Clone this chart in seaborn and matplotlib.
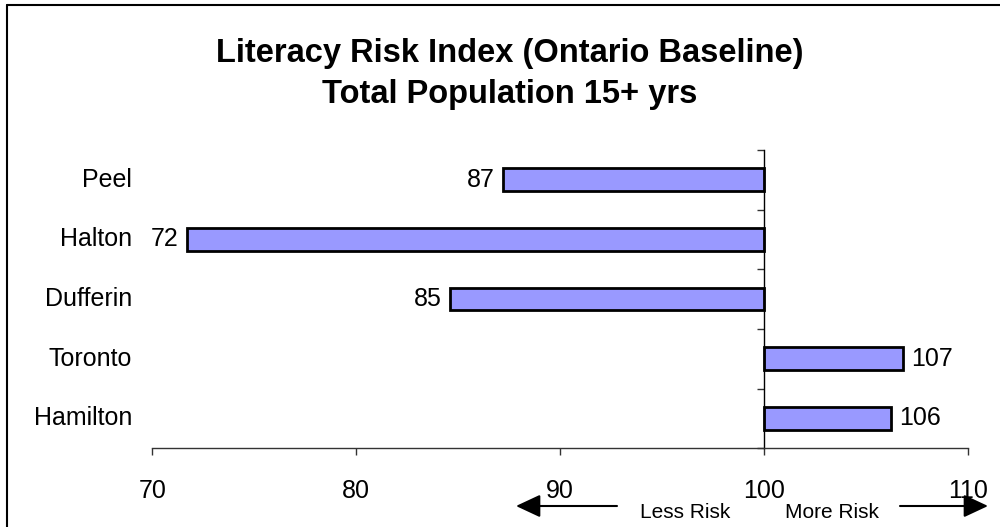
import numpy as np
import pandas as pd
import matplotlib
matplotlib.use("Agg")
import matplotlib.pyplot as plt
import matplotlib.transforms as mtransforms
from matplotlib.lines import Line2D
from matplotlib.patches import FancyArrowPatch
from matplotlib.ticker import FuncFormatter, FixedLocator
import seaborn as sns

# Data (index, Ontario = 100)
regions = ["Peel", "Halton", "Dufferin", "Toronto", "Hamilton"]
risk_index = [87.2, 71.7, 84.6, 106.8, 106.2]
baseline = 100
x_ticks = [70, 80, 90, 100, 110]

df = pd.DataFrame({"region": regions, "index": risk_index})
df["diff"] = df["index"] - baseline

sns.set_theme(style="white")
plt.rcParams["font.family"] = ["Liberation Sans", "DejaVu Sans"]
plt.rcParams["text.color"] = "black"

fig = plt.figure(figsize=(10, 5.27), dpi=100)
ax = fig.add_axes([0.1523, 0.1493, 0.816, 0.5661])

sns.barplot(data=df, x="diff", y="region", orient="h", ax=ax,
            color="#9999FF", saturation=1, width=0.38,
            edgecolor="black", linewidth=2)

ax.set_xlim(x_ticks[0] - baseline, x_ticks[-1] - baseline)
ax.set_ylim(len(regions) - 0.5, -0.5)
ax.set_xticks([t - baseline for t in x_ticks])
ax.xaxis.set_major_formatter(FuncFormatter(lambda v, p: f"{v + baseline:.0f}"))
ax.set_xlabel("")
ax.set_ylabel("")

# spines: bottom axis and the baseline (100) axis
for s in ["top", "right"]:
    ax.spines[s].set_visible(False)
ax.spines["left"].set_position(("data", 0))
ax.spines["left"].set_color("black")
ax.spines["left"].set_linewidth(1)
ax.spines["bottom"].set_color("#333333")
ax.spines["bottom"].set_linewidth(1)

ax.tick_params(axis="x", direction="out", length=5, width=1, color="#333333",
               bottom=True, labelsize=18, pad=17, labelcolor="black")
ax.tick_params(axis="y", which="major", length=0, labelleft=False)
ax.yaxis.set_minor_locator(FixedLocator(np.arange(-0.5, len(regions), 1.0)))
ax.tick_params(axis="y", which="minor", direction="out", length=5, width=1,
               color="#333333", left=True)

# category labels at the left of the plot area
trans = mtransforms.blended_transform_factory(ax.transAxes, ax.transData)
for i, name in enumerate(regions):
    ax.text(-0.025, i, name, transform=trans, ha="right", va="center",
            fontsize=18, color="black")

# value labels at the bar ends
ax.bar_label(ax.containers[0], labels=[f"{v:.0f}" for v in risk_index],
             padding=6, fontsize=18, color="black")

# two-line title
fig.text(0.51, 1 - 62 / 527, "Literacy Risk Index (Ontario Baseline)",
         ha="center", va="baseline", fontsize=23.5, fontweight="bold")
fig.text(0.51, 1 - 103 / 527, "Total Population 15+ yrs",
         ha="center", va="baseline", fontsize=23.5, fontweight="bold")

# direction arrows under the axis
arrow_y = 1 - 506 / 527
arrow_style = dict(arrowstyle="-|>,head_length=0.75,head_width=0.35",
                   color="black", lw=1.5, mutation_scale=20,
                   shrinkA=0, shrinkB=0)
fig.add_artist(FancyArrowPatch((0.617, arrow_y), (0.516, arrow_y),
                               transform=fig.transFigure, **arrow_style))
fig.add_artist(FancyArrowPatch((0.900, arrow_y), (0.988, arrow_y),
                               transform=fig.transFigure, **arrow_style))
fig.text(0.685, 1 - 512 / 527, "Less Risk", ha="center", va="center", fontsize=15)
fig.text(0.832, 1 - 512 / 527, "More Risk", ha="center", va="center", fontsize=15)

# outer frame (left and top edges visible)
fig.add_artist(Line2D([0.0073, 0.0073], [0, 1 - 4.7 / 527], color="black",
                      lw=1.5, transform=fig.transFigure))
fig.add_artist(Line2D([0.0073, 1], [1 - 4.7 / 527, 1 - 4.7 / 527], color="black",
                      lw=1.5, transform=fig.transFigure))

fig.savefig("out.png", dpi=100)
